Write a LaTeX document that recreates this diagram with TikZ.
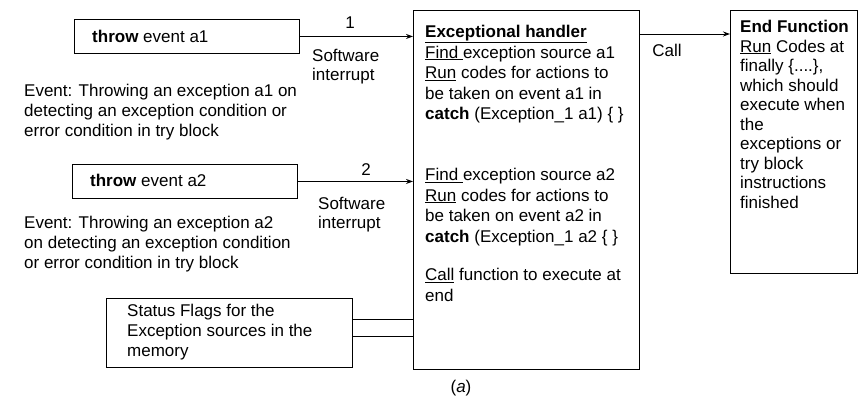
\documentclass[tikz,border=0pt]{standalone}
\usepackage{fontspec}
\setmainfont{Liberation Sans}
\usetikzlibrary{arrows.meta,calc}
\begin{document}
\begin{tikzpicture}[x=1pt,y=-1pt,
  box/.style={draw, line width=0.9pt, inner sep=0pt, anchor=north west},
  txt/.style={font=\fontsize{17}{20.5}\selectfont, inner sep=0pt, align=left, anchor=north west},
  arr/.style={draw, line width=0.9pt, -{Stealth[length=7pt,width=5pt]}},
  plain/.style={draw, line width=0.9pt},
  lbl/.style={font=\fontsize{17}{19}\selectfont, inner sep=0pt}]
\useasboundingbox (0,0) rectangle (858,397);

% boxes
\node[box, minimum width=225pt, minimum height=34pt] (a1) at (74,19) {};
\node[box, minimum width=225pt, minimum height=34pt] (a2) at (72,164) {};
\node[box, minimum width=246pt, minimum height=69pt] (status) at (106,298) {};
\node[box, minimum width=226pt, minimum height=359pt] (handler) at (413,10) {};
\node[box, minimum width=127pt, minimum height=263pt] (endf) at (730,10) {};

% box texts
\node[txt] (a1t) at (92,30) {\textbf{throw} event a1};
\node[txt] (a2t) at (90,174) {\textbf{throw} event a2};
\node[txt, font=\fontsize{17}{20}\selectfont] (stt) at (127,304) {Status Flags for the\\Exception sources in the\\memory};

\node[txt] (h1) at (425,25) {\underline{\textbf{Exceptional handler}}\\
\underline{Find\ }exception source a1\\
\underline{Run} codes for actions to\\
be taken on event a1 in\\
\textbf{catch} (Exception\_1 a1) \{ \}};
\node[txt] (h2) at (425,168) {\underline{Find\ }exception source a2\\
\underline{Run} codes for actions to\\
be taken on event a2 in\\
\textbf{catch} (Exception\_1 a2 \{ \}};
\node[txt] (h3) at (425,268) {\underline{Call} function to execute at\\end};

\node[txt, font=\fontsize{17}{19.5}\selectfont] (et) at (740,20) {\textbf{End Function}\\
\underline{Run} Codes at\\
finally \{....\},\\
which should\\
execute when\\
the\\
exceptions or\\
try block\\
instructions\\
finished};

% event descriptions
\node[txt, font=\fontsize{17}{20}\selectfont] (ev1) at (24,84) {Event: Throwing an exception a1 on\\detecting an exception condition or\\error condition in try block};
\node[txt, font=\fontsize{17}{20}\selectfont] (ev2) at (24,216) {Event: Throwing an exception a2\\on detecting an exception condition\\or error condition in try block};

% connectors
\draw[arr] (a1.east) -- (handler.west |- a1.east);
\draw[arr] (a2.east) -- (handler.west |- a2.east);
\draw[arr] ([yshift=-24pt]handler.north east) -- ([yshift=-24pt]endf.north west);
\draw[plain] ($(status.north east)!0.3!(status.south east)$) -- (handler.west |- {$(status.north east)!0.3!(status.south east)$});
\draw[plain] ($(status.north east)!0.55!(status.south east)$) -- (handler.west |- {$(status.north east)!0.55!(status.south east)$});

% labels
\node[lbl] (n1) at (350,23) {1};
\node[txt, font=\fontsize{17}{19}\selectfont] (sw1) at (312,49) {Software\\interrupt};
\node[lbl] (n2) at (366,170) {2};
\node[txt, font=\fontsize{17}{19}\selectfont] (sw2) at (318,197) {Software\\interrupt};
\node[lbl] (call) at (667,50) {Call};
\node[lbl] (cap) at (461,388) {(\textit{a})};
\end{tikzpicture}
\end{document}
